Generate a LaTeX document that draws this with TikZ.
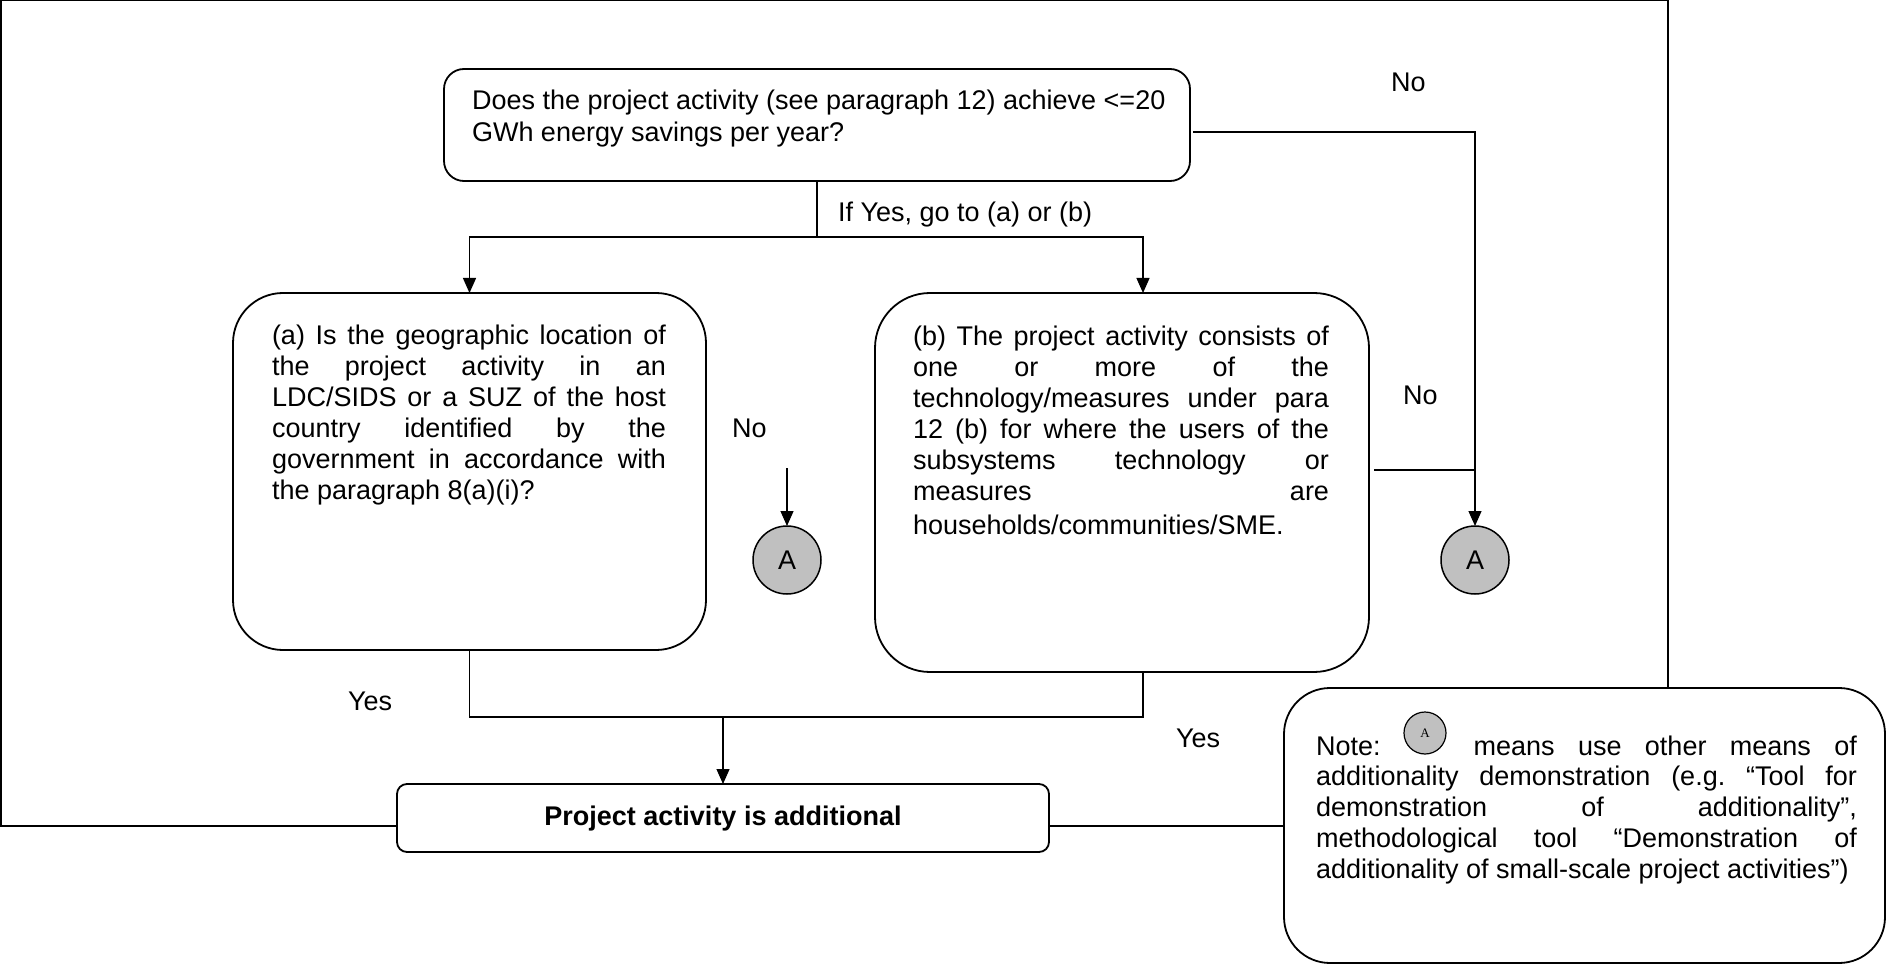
\documentclass[tikz,border=0pt]{standalone}
\usepackage{fontspec}
\setmainfont{Liberation Sans}
\newfontfamily\serifA{Liberation Serif}
\usetikzlibrary{arrows.meta}
\definecolor{cgray}{HTML}{C0C0C0}
\setlength{\parindent}{0pt}
\hyphenpenalty=10000
\exhyphenpenalty=10000
\tolerance=10000
\pretolerance=-1
\hbadness=10000
\frenchspacing
\begin{document}
\begin{tikzpicture}[x=1pt,y=-1pt,
  every node/.style={inner sep=0pt, outer sep=0pt},
  txt/.style={font=\fontsize{27}{30.8}\selectfont},
  para/.style={anchor=north west, align=justify, text width=#1, txt},
  box/.style={draw, line width=1.8pt, fill=white, rounded corners=#1},
  conn/.style={line width=1.3pt},
  arr/.style={conn, -{Triangle[length=15pt,width=13pt]}},
  circA/.style={draw, circle, line width=1.5pt, fill=cgray, minimum size=68pt, txt},
  lbl/.style={txt, anchor=base west},
]
\useasboundingbox (0,0) rectangle (1887,965);
% outer frame
\draw[line width=1.4pt] (0.8,0.8) rectangle (1668,826);

% boxes
\node[box=20, minimum width=746, minimum height=112] (q0) at (817,125) {};
\node[box=50, minimum width=473, minimum height=357] (qa) at (469.5,471.5) {};
\node[box=55, minimum width=494, minimum height=379] (qb) at (1122,482.5) {};
\node[box=10, minimum width=652, minimum height=68] (fin) at (723,818) {};
\node[box=46, minimum width=601, minimum height=275] (note) at (1584.5,825.5) {};
\node[circA] (A1) at (787,560) {A};
\node[circA] (A2) at (1475,560) {A};
\node[draw, circle, line width=1.2pt, fill=cgray, minimum size=42pt, font=\serifA\fontsize{13}{13}\selectfont] (A3) at (1425,733) {A};

% texts
\node[anchor=north west, align=left, font=\fontsize{27}{32}\selectfont] (t0) at (472,89)
  {\rule{0pt}{21pt}Does the project activity (see paragraph 12) achieve <=20\\GWh energy savings per year?};
\node[para=394] (ta) at (272,324) {\rule{0pt}{21pt}(a) Is the geographic location of\linebreak
 the project activity in an\linebreak
 LDC/SIDS or a SUZ of the host\linebreak
 country identified by the\linebreak
 government in accordance with\linebreak
 the paragraph 8(a)(i)?};
\node[para=416] (tb) at (913,325) {\rule{0pt}{21pt}(b) The project activity consists of\linebreak
 one or more of the\linebreak
 technology/measures under para\linebreak
 12 (b) for where the users of the\linebreak
 subsystems technology or\linebreak
 measures\hfill are\par\vspace{3.2pt}
 households/communities/SME.};
\node[para=541] (tn) at (1316,734) {\rule{0pt}{21pt}Note:\hspace{93pt}means use other means of\linebreak
 additionality demonstration (e.g. “Tool for\linebreak
 demonstration of additionality”,\linebreak
 methodological tool “Demonstration of\linebreak
 additionality of small-scale project activities”)};
\node[anchor=base, font=\fontsize{27}{30.8}\selectfont\bfseries] (tfin) at (723,825) {Project activity is additional};

% labels
\node[lbl] (lyesgo) at (838,222) {If Yes, go to (a) or (b)};
\node[lbl] (lno0) at (1391,92) {No};
\node[lbl] (lno1) at (732,437) {No};
\node[lbl] (lno2) at (1403,404) {No};
\node[lbl] (lyes1) at (348,710) {Yes};
\node[lbl] (lyes2) at (1176,747) {Yes};

% connector coordinates
\coordinate (split) at (817,237);
\coordinate (bIn) at (1143,293);
\coordinate (q0out) at (1193,132);
\coordinate (bout) at (1374,470);
\coordinate (bjoin) at (1475,470);
\coordinate (noA) at (787,468);
\coordinate (bOut) at (1143,672);
\coordinate (merge) at (723,717);

% connectors
\draw[conn] (q0.south) -- (split);
\draw[arr] (split) -| (qa.north);
\draw[arr] (split) -| (bIn);
\draw[arr] (q0out) -| (A2.north);
\draw[conn] (bout) -- (bjoin);
\draw[arr] (noA) -- (A1.north);
\draw[conn] (qa.south) |- (merge) -| (bOut);
\draw[arr] (merge) -- (fin.north);
\end{tikzpicture}
\end{document}
